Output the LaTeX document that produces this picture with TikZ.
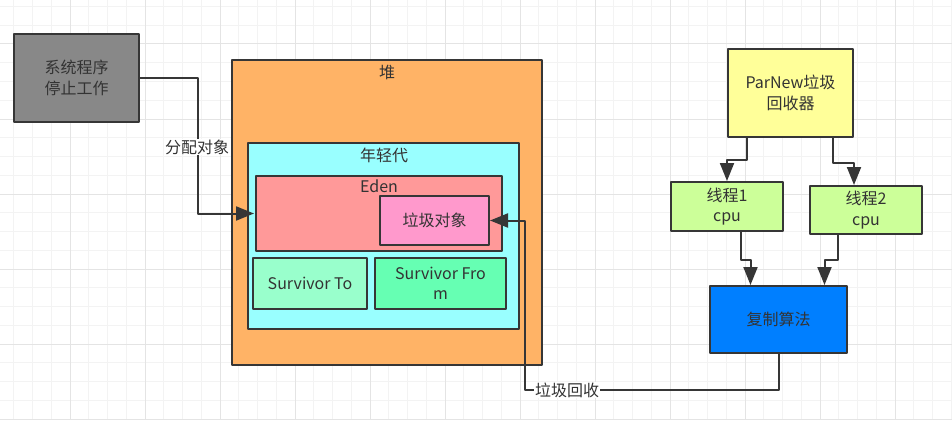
\documentclass[tikz,border=0pt]{standalone}
\usepackage{fontspec}
\setmainfont{Noto Sans CJK SC}
\usetikzlibrary{arrows.meta}
\definecolor{lineC}{HTML}{363636}
\definecolor{textC}{HTML}{333333}
\definecolor{gridMinorC}{HTML}{F3F3F3}
\definecolor{gridMajorC}{HTML}{E4E4E4}
\definecolor{heapC}{HTML}{FFB366}
\definecolor{youngC}{HTML}{99FFFF}
\definecolor{edenC}{HTML}{FF9999}
\definecolor{garbC}{HTML}{FF99CC}
\definecolor{survToC}{HTML}{99FFCC}
\definecolor{survFromC}{HTML}{66FFB3}
\definecolor{sysC}{HTML}{888888}
\definecolor{parC}{HTML}{FFFF99}
\definecolor{threadC}{HTML}{CCFF99}
\definecolor{copyC}{HTML}{007FFF}
\tikzset{
  box/.style={draw=lineC, line width=2pt, align=center, inner sep=0pt, text=textC},
  conn/.style={draw=lineC, line width=2pt, -{Triangle[length=18pt,width=14pt]}},
  lbl/.style={fill=white, inner sep=1pt, text=textC},
  title/.style={inner sep=0pt, text=textC},
}
\begin{document}
\begin{tikzpicture}[x=1pt, y=-1pt, font=\fontsize{16}{20.5}\selectfont, line join=round]
 \useasboundingbox (0,0) rectangle (952,420);
 \clip (0,0) rectangle (952,420);
 \fill[white] (0,0) rectangle (952,420);
 \foreach \i in {0,...,51} \draw[gridMinorC, line width=1pt] ({-5+18.75*\i},0) -- ({-5+18.75*\i},420);
 \foreach \j in {0,...,22} \draw[gridMinorC, line width=1pt] (0,{6.5+18.75*\j}) -- (952,{6.5+18.75*\j});
 \foreach \i in {0,...,13} \draw[gridMajorC, line width=1pt] ({-5+75*\i},0) -- ({-5+75*\i},420);
 \foreach \j in {0,...,6} \draw[gridMajorC, line width=1pt] (0,{-31+75*\j}) -- (952,{-31+75*\j});
 % heap
 \node[box, fill=heapC, minimum width=310pt, minimum height=305pt] (heap) at (387,212.5) {};
 \node[title] (heapT) at (387,72) {堆};
 \node[box, fill=youngC, minimum width=271pt, minimum height=186pt] (young) at (383.5,236) {};
 \node[title] (youngT) at (384,155) {年轻代};
 \node[box, fill=edenC, minimum width=246pt, minimum height=75pt] (eden) at (379,213.5) {};
 \node[title] (edenT) at (379,186) {Eden};
 \node[box, fill=garbC, minimum width=109pt, minimum height=49pt] (garb) at (434.5,220.5) {垃圾对象};
 \node[box, fill=survToC, minimum width=114pt, minimum height=51pt] (survTo) at (310,283.5) {Survivor To};
 \node[box, fill=survFromC, minimum width=131pt, minimum height=51pt] (survFrom) at (440.5,283.5) {Survivor Fro\\m};
 % left
 \node[box, fill=sysC, minimum width=125pt, minimum height=88pt] (sys) at (76.5,78) {系统程序\\停止工作};
 % right
 \node[box, fill=parC, minimum width=125pt, minimum height=88pt] (par) at (790.5,93) {ParNew垃圾\\回收器};
 \node[box, fill=threadC, minimum width=112pt, minimum height=49pt] (t1) at (727,206.5) {线程1\\cpu};
 \node[box, fill=threadC, minimum width=112pt, minimum height=48pt] (t2) at (866,210) {线程2\\cpu};
 \node[box, fill=copyC, minimum width=137pt, minimum height=67pt] (copy) at (778.5,319.5) {复制算法};
 % connectors
 \draw[conn] (sys.east) -- (198,78) |- ([xshift=-1pt]eden.west);
 \node[lbl] (allocL) at (197,147) {分配对象};
 \draw[conn] ([xshift=-44pt]par.south) -- ++(0,22) -| (t1.north);
 \draw[conn] ([xshift=42pt]par.south) -- ++(0,25) -| ([xshift=-12pt]t2.north);
 \draw[conn] ([xshift=14pt]t1.south) -- ++(0,28) -| ([xshift=-28pt]copy.north);
 \draw[conn] ([xshift=-28pt]t2.south) -- ++(0,25) -| ([xshift=46pt]copy.north);
 \coordinate (gcTurn) at (525,390);
 \draw[conn] (copy.south) |- (gcTurn) |- (garb.east);
 \node[lbl] (gcL) at (567,390) {垃圾回收};
\end{tikzpicture}
\end{document}
